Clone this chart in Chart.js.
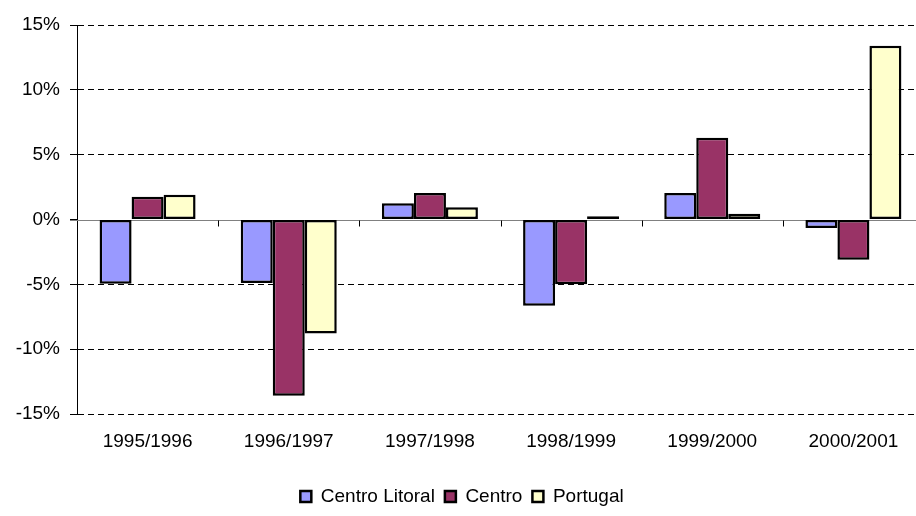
<!DOCTYPE html>
<html lang="pt">
<head>
    <meta charset="UTF-8">
    <title>Variação anual</title>
    <script src="https://cdn.jsdelivr.net/npm/chart.js"></script>
    <style>
        html, body { margin: 0; padding: 0; background: #fff; overflow: hidden; }
        .wrap { width: 916px; height: 516px; overflow: hidden; }
        .box { width: 925px; height: 516px; }
    </style>
</head>
<body>
    <div class="wrap">
        <div class="box"><canvas id="grafico"></canvas></div>
    </div>

    <script>
        // dados (%)
        const anos = ['1995/1996', '1996/1997', '1997/1998', '1998/1999', '1999/2000', '2000/2001'];
        const centroLitoral = [-4.95, -4.9, 1.25, -6.65, 2.05, -0.65];
        const centro = [1.75, -13.6, 2.05, -5.0, 6.3, -3.1];
        const portugal = [1.9, -8.8, 0.95, 0.25, 0.45, 13.4];
        const escalaY = [-15, -10, -5, 0, 5, 10, 15];

        const fonte = "'Liberation Sans', Arial, sans-serif";

        // linha do zero e marcas das categorias
        const linhaZero = {
            id: 'linhaZero',
            beforeDatasetsDraw(chart) {
                const { ctx, scales: { x, y } } = chart;
                const y0 = Math.round(y.getPixelForValue(0)) + 0.5;
                ctx.save();
                ctx.strokeStyle = '#808080';
                ctx.lineWidth = 1;
                ctx.beginPath();
                ctx.moveTo(x.left - 7, y0);
                ctx.lineTo(x.right, y0);
                ctx.stroke();
                ctx.strokeStyle = '#000';
                const passo = (x.right - x.left) / anos.length;
                for (let i = 1; i < anos.length; i++) {
                    const px = Math.round(x.left + i * passo) + 0.5;
                    ctx.beginPath();
                    ctx.moveTo(px, y0);
                    ctx.lineTo(px, y0 + 6);
                    ctx.stroke();
                }
                ctx.restore();
            }
        };

        const barra = { borderColor: '#000', borderWidth: 2.5, borderSkipped: false };

        new Chart(document.getElementById('grafico'), {
            type: 'bar',
            data: {
                labels: anos,
                datasets: [
                    { label: 'Centro Litoral', data: centroLitoral, backgroundColor: '#9999FF', ...barra },
                    { label: 'Centro', data: centro, backgroundColor: '#993366', ...barra },
                    { label: 'Portugal', data: portugal, backgroundColor: '#FFFFCC', ...barra }
                ]
            },
            options: {
                responsive: true,
                maintainAspectRatio: false,
                animation: false,
                layout: { padding: { top: 25, right: 1, left: 0, bottom: 0 } },
                datasets: { bar: { categoryPercentage: 0.68, barPercentage: 1 } },
                plugins: {
                    tooltip: { enabled: false },
                    legend: {
                        position: 'bottom',
                        labels: {
                            color: '#000',
                            font: { family: fonte, size: 19 },
                            boxWidth: 11,
                            boxHeight: 11,
                            padding: 10
                        }
                    }
                },
                scales: {
                    x: {
                        grid: { display: false, drawTicks: false },
                        border: { display: false },
                        ticks: { color: '#000', font: { family: fonte, size: 19 }, padding: 16, maxRotation: 0 },
                        afterFit(s) { s.height = 63; }
                    },
                    y: {
                        min: -15,
                        max: 15,
                        afterBuildTicks(s) { s.ticks = escalaY.map(v => ({ value: v })); },
                        grid: {
                            color: c => (c.tick && c.tick.value === 0) ? 'rgba(0,0,0,0)' : '#000',
                            lineWidth: 1,
                            tickLength: 7,
                            tickColor: '#000',
                            tickBorderDash: []
                        },
                        border: { display: true, color: '#000', width: 1, dash: [6, 4] },
                        ticks: {
                            color: '#000',
                            font: { family: fonte, size: 19 },
                            padding: 10,
                            callback: v => v + '%'
                        },
                        afterFit(s) { s.width = 77; }
                    }
                }
            },
            plugins: [linhaZero]
        });
    </script>
</body>
</html>
